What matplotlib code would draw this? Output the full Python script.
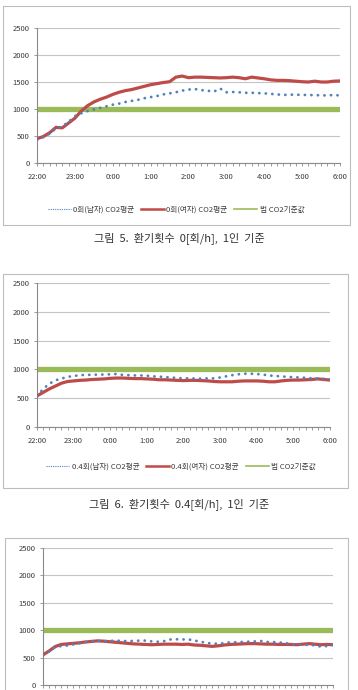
import matplotlib
matplotlib.use("Agg")
import matplotlib.pyplot as plt
from matplotlib.lines import Line2D
from matplotlib.patches import Rectangle
import numpy as np

plt.rcParams["font.family"] = ["Noto Sans CJK KR", "DejaVu Sans"]

# 10-minute steps from 22:00 to 6:00
steps = list(range(49))
hour_labels = ["22:00", "23:00", "0:00", "1:00", "2:00", "3:00", "4:00", "5:00", "6:00"]
limit_co2 = [1000] * 49

# Fig. 5 : 0 air changes per hour
male_0 = [430, 480, 540, 640, 680, 760, 870, 920, 960, 990, 1020, 1050, 1080, 1100,
          1130, 1150, 1170, 1200, 1220, 1240, 1270, 1290, 1310, 1340, 1360, 1370, 1350,
          1340, 1320, 1380, 1310, 1315, 1310, 1300, 1300, 1295, 1290, 1280, 1270, 1260,
          1265, 1265, 1260, 1260, 1255, 1255, 1250, 1260, 1250]
female_0 = [450, 490, 560, 660, 650, 740, 830, 960, 1060, 1130, 1180, 1220, 1270, 1310,
            1340, 1360, 1390, 1420, 1450, 1470, 1490, 1505, 1590, 1610, 1580, 1590, 1590,
            1585, 1580, 1575, 1580, 1590, 1580, 1560, 1590, 1575, 1560, 1540, 1530, 1530,
            1525, 1515, 1505, 1500, 1515, 1500, 1500, 1515, 1520]

# Fig. 6 : 0.4 air changes per hour
male_04 = [540, 660, 750, 810, 840, 870, 885, 900, 905, 905, 910, 910, 915, 920, 905,
           900, 895, 895, 890, 880, 875, 865, 860, 850, 845, 845, 840, 840, 845, 845, 860,
           880, 900, 915, 925, 925, 920, 910, 895, 885, 880, 870, 865, 860, 855, 845, 840,
           835, 830]
female_04 = [540, 600, 660, 710, 760, 790, 800, 810, 815, 825, 830, 835, 845, 850, 850,
             845, 840, 840, 835, 830, 820, 820, 815, 810, 805, 810, 810, 805, 800, 790, 785,
             785, 785, 795, 800, 800, 800, 795, 785, 785, 800, 810, 815, 815, 820, 825, 835,
             825, 815]

# Fig. 7 (cut off in the page) : higher air change rate
male_3 = [550, 610, 690, 710, 720, 740, 760, 780, 795, 805, 800, 805, 810, 805, 800, 805,
          810, 810, 795, 790, 800, 830, 835, 830, 835, 810, 795, 765, 760, 750, 765, 780,
          780, 785, 790, 795, 805, 785, 785, 775, 770, 745, 740, 735, 730, 725, 700, 710,
          730]
female_3 = [550, 620, 700, 740, 750, 760, 770, 785, 795, 805, 800, 790, 780, 770, 760,
            750, 745, 740, 735, 740, 745, 745, 745, 740, 745, 730, 725, 715, 705, 715, 730,
            740, 745, 750, 755, 755, 750, 745, 745, 740, 740, 740, 735, 745, 755, 745, 735,
            740, 735]

W, H = 358, 690
BLUE, RED, GREEN = "#4f81bd", "#be4b48", "#9bbb59"
GRID, AXIS, TXT = "#c4c4c4", "#8a8a8a", "#3a3a3a"

fig = plt.figure(figsize=(W / 100, H / 100), dpi=100)


def chart(box, plot, male, female, names, legend_xy=None, caption=None, caption_y=None):
    x0, y0, x1, y1 = box
    fig.patches.append(Rectangle((x0 / W, 1 - y1 / H), (x1 - x0) / W, (y1 - y0) / H,
                                 transform=fig.transFigure, fill=False,
                                 edgecolor="#bdbdbd", linewidth=0.8))
    l, t, r, b = plot
    ax = fig.add_axes([l / W, 1 - b / H, (r - l) / W, (b - t) / H])
    ax.plot(steps, limit_co2, color=GREEN, linewidth=3.8, solid_capstyle="round", zorder=2)
    ax.plot(steps, female, color=RED, linewidth=2.3, solid_joinstyle="round", zorder=3)
    ax.plot(steps, male, color=BLUE, linewidth=2.0, linestyle=(0, (0.05, 2.3)),
            dash_capstyle="round", zorder=4)

    ax.set_xlim(0, 48)
    ax.set_ylim(0, 2500)
    ax.set_yticks(range(0, 2501, 500))
    ax.set_xticks(range(0, 49, 6))
    ax.set_xticklabels(hour_labels)
    ax.set_xticks(steps, minor=True)
    ax.yaxis.grid(True, color=GRID, linewidth=0.8)
    ax.set_axisbelow(True)
    for side in ("top", "right"):
        ax.spines[side].set_visible(False)
    for side in ("left", "bottom"):
        ax.spines[side].set_color(AXIS)
        ax.spines[side].set_linewidth(0.8)
    ax.tick_params(axis="both", which="both", color=AXIS, width=0.6, labelsize=5.5,
                   labelcolor=TXT)
    ax.tick_params(axis="x", which="both", length=2.2, pad=5)
    ax.tick_params(axis="y", length=2.2, pad=3)

    if legend_xy is not None:
        handles = [
            Line2D([], [], color=BLUE, linewidth=0.8, linestyle=(0, (1, 1))),
            Line2D([], [], color=RED, linewidth=1.8),
            Line2D([], [], color=GREEN, linewidth=1.2),
        ]
        ax.legend(handles, names, ncol=3, loc="center",
                  bbox_to_anchor=(legend_xy[0] / W, 1 - legend_xy[1] / H),
                  bbox_transform=fig.transFigure, frameon=False, fontsize=5.5,
                  handlelength=3.0, handletextpad=0.3, columnspacing=0.9,
                  labelcolor=TXT)
    if caption is not None:
        fig.text(0.5, 1 - caption_y / H, caption, ha="center", va="center",
                 fontsize=8, color="#333333")
    return ax


chart((3, 6, 350, 225), (37, 28, 340, 163), male_0, female_0,
      ["0회(남자) CO2평균", "0회(여자) CO2평균", "법 CO2기준값"],
      legend_xy=(176, 210), caption="그림  5.  환기횟수  0[회/h],  1인  기준", caption_y=238)

chart((3, 274, 348, 488), (37, 283, 330, 427), male_04, female_04,
      ["0.4회(남자) CO2평균", "0.4회(여자) CO2평균", "법 CO2기준값"],
      legend_xy=(181, 467), caption="그림  6.  환기횟수  0.4[회/h],  1인  기준", caption_y=504)

# third chart runs off the bottom of the page: its hour labels are not visible
ax3 = chart((5, 538, 348, 760), (43, 548, 333, 685), male_3, female_3, None)
ax3.tick_params(axis="x", labelbottom=False)

fig.savefig("out.png", dpi=100)
